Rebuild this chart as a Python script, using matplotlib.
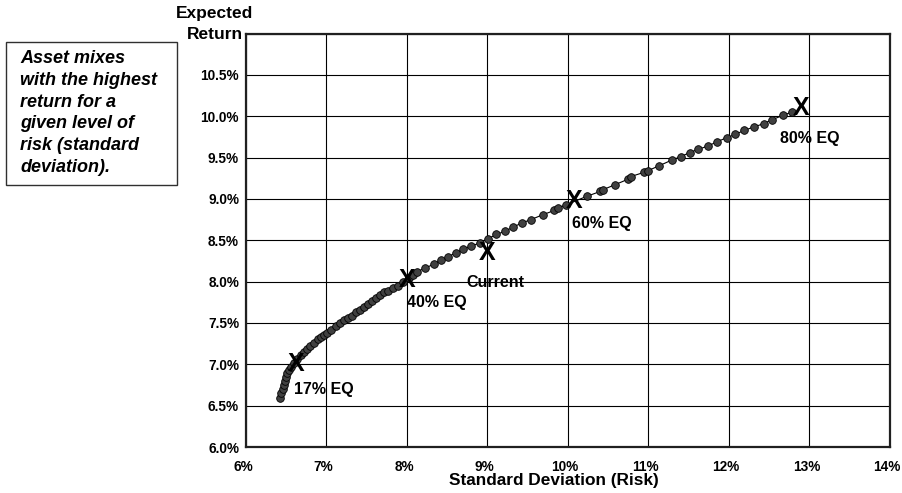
import matplotlib
matplotlib.use("Agg")
import matplotlib.pyplot as plt
import matplotlib.transforms as mtransforms
from matplotlib.patches import Rectangle
from matplotlib.ticker import FuncFormatter

plt.rcParams["font.family"] = ["Liberation Sans", "DejaVu Sans"]

# efficient frontier dots (std dev %, return %)
risk = [6.42, 6.44, 6.46, 6.47, 6.48, 6.50, 6.51, 6.54, 6.56, 6.60, 6.64, 6.68,
        6.72, 6.76, 6.80, 6.85, 6.89, 6.93, 6.97, 7.01, 7.06, 7.12, 7.17, 7.22,
        7.27, 7.32, 7.37, 7.42, 7.47, 7.52, 7.57, 7.62, 7.67, 7.72, 7.77, 7.83,
        7.89, 7.95, 8.03, 8.07, 8.12, 8.22, 8.33, 8.42, 8.51, 8.61, 8.70, 8.80,
        8.91, 9.01, 9.11, 9.22, 9.32, 9.43, 9.54, 9.69, 9.83, 9.88, 9.98, 10.23,
        10.40, 10.43, 10.58, 10.75, 10.78, 10.94, 10.99, 11.13, 11.29, 11.40,
        11.51, 11.62, 11.74, 11.85, 11.97, 12.08, 12.19, 12.31, 12.43, 12.54,
        12.67, 12.78]
ret = [6.59, 6.65, 6.70, 6.75, 6.80, 6.85, 6.89, 6.93, 6.97, 7.02, 7.07, 7.11,
       7.15, 7.19, 7.22, 7.26, 7.30, 7.33, 7.36, 7.38, 7.42, 7.46, 7.50, 7.53,
       7.56, 7.59, 7.63, 7.66, 7.69, 7.73, 7.76, 7.80, 7.84, 7.87, 7.89, 7.92,
       7.95, 7.99, 8.04, 8.08, 8.12, 8.16, 8.21, 8.26, 8.30, 8.35, 8.39, 8.43,
       8.47, 8.52, 8.57, 8.61, 8.66, 8.71, 8.75, 8.81, 8.86, 8.89, 8.93, 9.03,
       9.09, 9.11, 9.17, 9.24, 9.27, 9.32, 9.34, 9.40, 9.47, 9.51, 9.56, 9.60,
       9.64, 9.69, 9.74, 9.78, 9.83, 9.87, 9.91, 9.96, 10.01, 10.05]

# asset mixes marked with an X
mix_names = ["17% EQ", "40% EQ", "Current", "60% EQ", "80% EQ"]
mix_risk = [6.62, 8.00, 9.00, 10.07, 12.90]
mix_ret = [7.00, 8.02, 8.35, 8.97, 10.10]
label_x = [6.60, 8.00, 8.74, 10.05, 12.63]
label_y = [6.70, 7.75, 7.99, 8.70, 9.73]

fig = plt.figure(figsize=(9.03, 4.93), dpi=100)
ax = fig.add_axes([0.2724, 0.0933, 0.7132, 0.8387])

ax.plot(risk, ret, "-", color="black", lw=0.8, marker="o", markersize=5.5,
        markerfacecolor="#404040", markeredgecolor="black", markeredgewidth=0.6,
        zorder=3)

for n, xr, yr, lx, ly in zip(mix_names, mix_risk, mix_ret, label_x, label_y):
    ax.text(xr, yr, "X", ha="center", va="center", fontsize=18,
            fontweight="bold", zorder=4)
    ax.text(lx, ly, n, ha="left", va="center", fontsize=11.5, fontweight="bold",
            zorder=4)

ax.set_xlim(6, 14)
ax.set_ylim(6.0, 11.0)
ax.set_xticks(range(6, 15))
ax.set_yticks([6.0, 6.5, 7.0, 7.5, 8.0, 8.5, 9.0, 9.5, 10.0, 10.5, 11.0])
ax.xaxis.set_major_formatter(FuncFormatter(lambda v, p: "%d%%" % v))
ax.yaxis.set_major_formatter(FuncFormatter(lambda v, p: "" if v > 10.9 else "%.1f%%" % v))
ax.tick_params(length=0, labelsize=9.8)
ax.tick_params(axis="x", pad=9)
ax.tick_params(axis="y", pad=5)
shift = mtransforms.ScaledTranslation(-3 / 100, 0, fig.dpi_scale_trans)
for lab in ax.get_xticklabels():
    lab.set_transform(lab.get_transform() + shift)
for lab in ax.get_xticklabels() + ax.get_yticklabels():
    lab.set_fontweight("bold")
ax.grid(True, color="black", lw=0.8)
for s in ax.spines.values():
    s.set_linewidth(1.6)
    s.set_color("#202020")

fig.text(554 / 903, 1 - 480 / 493, "Standard Deviation (Risk)", ha="center",
         va="center", fontsize=12.4, fontweight="bold")
fig.text(215 / 903, 1 - 24 / 493, "Expected\nReturn", ha="center", va="center",
         fontsize=12.5, fontweight="bold", linespacing=1.45)

# note box on the left
fig.patches.append(Rectangle((6 / 903, 1 - 185 / 493), 171 / 903, 143 / 493,
                             transform=fig.transFigure, fill=False,
                             edgecolor="#303030", lw=1))
fig.text(20 / 903, 1 - 113 / 493,
         "Asset mixes\nwith the highest\nreturn for a\ngiven level of\nrisk (standard\ndeviation).",
         ha="left", va="center", fontsize=13, fontweight="bold", fontstyle="italic",
         linespacing=1.36)

fig.savefig("out.png", dpi=100)
